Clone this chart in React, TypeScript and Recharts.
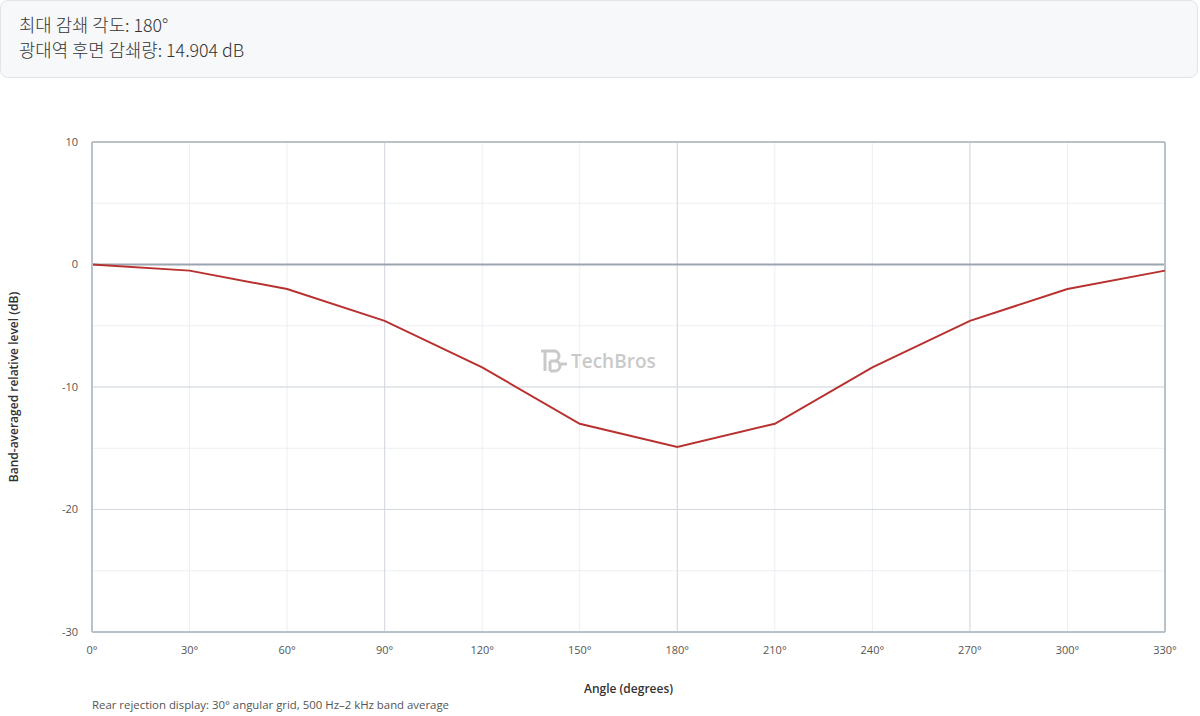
import React from 'react';
import {
  LineChart,
  Line,
  XAxis,
  YAxis,
  CartesianGrid,
  ReferenceLine,
  Label,
} from 'recharts';

const ANGLES = [0, 30, 60, 90, 120, 150, 180, 210, 240, 270, 300, 330];
const LEVELS = [0, -0.5, -2.0, -4.6, -8.4, -13.0, -14.9, -13.0, -8.4, -4.6, -2.0, -0.5];

const Y_TICKS = [-30, -20, -10, 0, 10];
const Y_MINOR = [-30, -25, -20, -15, -10, -5, 0, 5, 10];
const Y_MAJOR = [-30, -20, -10, 0, 10];
const X_MAJOR = [0, 90, 180, 270];

const SUMMARY_LINES = ['최대 감쇄 각도: 180°', '광대역 후면 감쇄량: 14.904 dB'];

const FONT = '"Open Sans", "Noto Sans", "Noto Sans CJK KR", sans-serif';
const FRAME = '#b9c1c9';
const LINE_RED = '#b8312f';

const data = ANGLES.map((angle, i) => ({ angle, level: LEVELS[i] }));

const App: React.FC = () => {
  return (
    <div style={{ position: 'relative', width: 1200, height: 716, fontFamily: FONT, background: '#fff' }}>
      <style>{'body{margin:0}'}</style>
      {/* summary box */}
      <div
        style={{
          position: 'absolute',
          left: 0,
          top: 0,
          width: 1198,
          height: 78,
          background: '#f7f8fa',
          border: '1px solid #e1e5ea',
          borderRadius: 8,
          boxSizing: 'border-box',
          padding: '11px 18px',
          fontFamily: '"Noto Sans CJK KR", "Open Sans", sans-serif',
          fontSize: 17.8,
          fontWeight: 300,
          lineHeight: '25px',
          color: '#333',
        }}
      >
        {SUMMARY_LINES.map((t) => (
          <div key={t}>{t}</div>
        ))}
      </div>

      <div style={{ position: 'absolute', left: 0, top: 78 }}>
        <LineChart width={1200} height={638} data={data} margin={{ top: 64, right: 35, bottom: 7, left: 52 }}>
          <CartesianGrid
            stroke="#eceff3"
            strokeWidth={1}
            horizontalValues={Y_MINOR}
            verticalValues={ANGLES}
          />
          <CartesianGrid
            stroke="#d3d9df"
            strokeWidth={1}
            horizontalValues={Y_MAJOR}
            verticalValues={X_MAJOR}
          />
          <XAxis
            dataKey="angle"
            type="number"
            domain={[0, 330]}
            ticks={ANGLES}
            tickFormatter={(v: number) => `${v}°`}
            interval={0}
            tickLine={false}
            axisLine={{ stroke: FRAME, strokeWidth: 2 }}
            tick={{ fill: '#555', fontSize: 11, fontFamily: FONT }}
            tickMargin={8}
            height={77}
          >
            <Label
              value="Angle (degrees)"
              position="insideTop"
              offset={52}
              style={{ fill: '#333', fontSize: 12, fontWeight: 600, fontFamily: FONT }}
            />
          </XAxis>
          <YAxis
            type="number"
            domain={[-30, 10]}
            ticks={Y_TICKS}
            interval={0}
            tickLine={false}
            axisLine={{ stroke: FRAME, strokeWidth: 2 }}
            tick={{ fill: '#555', fontSize: 11, fontFamily: FONT }}
            tickMargin={8}
            width={40}
          >
            <Label
              value="Band-averaged relative level (dB)"
              angle={-90}
              position="insideLeft"
              offset={-38}
              style={{ fill: '#333', fontSize: 12, fontWeight: 600, fontFamily: FONT, textAnchor: 'middle' }}
            />
          </YAxis>
          <ReferenceLine y={0} stroke="#9aa5b0" strokeWidth={2} />
          <ReferenceLine y={10} stroke={FRAME} strokeWidth={2} />
          <ReferenceLine x={330} stroke={FRAME} strokeWidth={2} />
          <Line
            type="linear"
            dataKey="level"
            stroke={LINE_RED}
            strokeWidth={2}
            dot={false}
            activeDot={false}
            isAnimationActive={false}
          />
        </LineChart>
      </div>

      {/* watermark */}
      <div
        style={{
          position: 'absolute',
          left: 540,
          top: 348,
          display: 'flex',
          alignItems: 'center',
          color: '#c9c9c9',
          fontFamily: FONT,
          fontSize: 19,
          fontWeight: 600,
          pointerEvents: 'none',
        }}
      >
        <svg width={28} height={24} viewBox="0 0 28 24">
          <path d="M1 2 H16 M5 2 V22 M10 2 H14 A5 5 0 0 1 14 12 H10 M10 12 H15 A5 5 0 0 1 15 22 H10 M10 12 V22 M20 15 H27" stroke="#c9c9c9" strokeWidth={3} fill="none" />
        </svg>
        <span style={{ marginLeft: 3 }}>TechBros</span>
      </div>

      <div
        style={{
          position: 'absolute',
          left: 92,
          top: 697,
          fontSize: 11.4,
          color: '#555',
          fontFamily: FONT,
        }}
      >
        Rear rejection display: 30° angular grid, 500 Hz–2 kHz band average
      </div>
    </div>
  );
};

export default App;
